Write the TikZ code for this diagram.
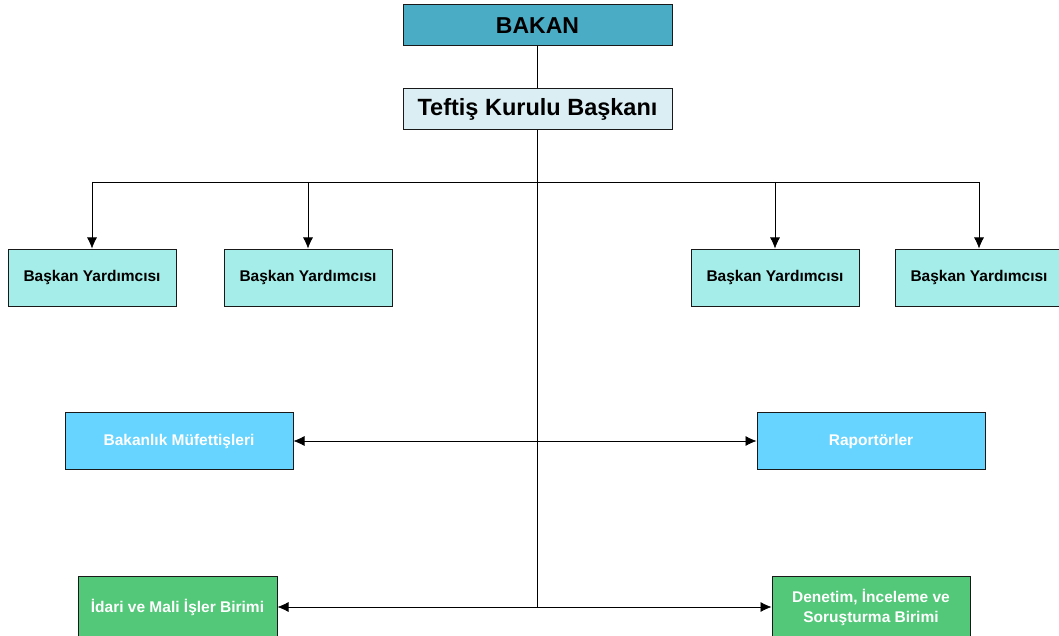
\documentclass[tikz,border=0pt]{standalone}
\usepackage{fontspec}
\setmainfont{Liberation Sans}
\usetikzlibrary{%
	arrows.meta,%
	positioning,%
	calc
}
\definecolor{bakancol}{HTML}{4BACC6}
\definecolor{baskancol}{HTML}{DAEEF3}
\definecolor{yardcol}{HTML}{A5EDE8}
\definecolor{mufcol}{HTML}{66D4FF}
\definecolor{birimcol}{HTML}{52C878}
\tikzstyle{box}=[draw=black!90, line width=1pt, align=center, inner sep=0pt]
\tikzstyle{line}=[draw, line width=0.7pt]
\tikzstyle{tip}=[-{Latex[length=11pt,width=10pt]}]
\tikzstyle{tips}=[{Latex[length=11pt,width=10pt]}-{Latex[length=11pt,width=10pt]}]

\begin{document}
\begin{tikzpicture}[x=1pt, y=-1pt]
		\useasboundingbox (0,0) rectangle (1059,636);
		\node[box, fill=bakancol, minimum width=269pt, minimum height=41pt, font=\fontsize{23}{25}\selectfont\bfseries] (bakan) at (537.5,25.5) {BAKAN};
		\node[box, fill=baskancol, minimum width=269pt, minimum height=41pt, font=\fontsize{23.5}{25}\selectfont\bfseries] (tkb) at (537.5,109.5) {Teftiş Kurulu Başkanı};
		
		% yardimcilar
		\node[box, fill=yardcol, minimum width=168pt, minimum height=57pt, font=\fontsize{15.5}{17}\selectfont\bfseries] (by1) at (92,277.5) {Başkan Yardımcısı};
		\node[box, fill=yardcol, minimum width=168pt, minimum height=57pt, font=\fontsize{15.5}{17}\selectfont\bfseries] (by2) at (308,277.5) {Başkan Yardımcısı};
		\node[box, fill=yardcol, minimum width=168pt, minimum height=57pt, font=\fontsize{15.5}{17}\selectfont\bfseries] (by3) at (775,277.5) {Başkan Yardımcısı};
		\node[box, fill=yardcol, minimum width=168pt, minimum height=57pt, font=\fontsize{15.5}{17}\selectfont\bfseries] (by4) at (979,277.5) {Başkan Yardımcısı};
		
		\node[box, fill=mufcol, text=white, minimum width=228pt, minimum height=57pt, font=\fontsize{15.5}{17}\selectfont\bfseries] (mufettis) at (179,441) {Bakanlık Müfettişleri};
		\node[box, fill=mufcol, text=white, minimum width=228pt, minimum height=57pt, font=\fontsize{15.5}{17}\selectfont\bfseries] (raportor) at (871,441) {Raportörler};
		
		\node[box, fill=birimcol, text=white, minimum width=199pt, minimum height=62pt, font=\fontsize{15.5}{20}\selectfont\bfseries] (idari) at (177.5,607) {İdari ve Mali İşler Birimi};
		\node[box, fill=birimcol, text=white, minimum width=198pt, minimum height=62pt, font=\fontsize{15.5}{20}\selectfont\bfseries] (denetim) at (871,607) {Denetim, İnceleme ve\\Soruşturma Birimi};
		
		\coordinate (bar) at (538,182);
		
		\draw[line] (bakan) -- (tkb);
		\draw[line] (tkb.south) -- (tkb.south |- idari.east);
		\draw[line] (by1.north |- bar) -- (by4.north |- bar);
		\foreach \yard in {by1,by2,by3,by4}
		\draw[line, tip] (\yard.north |- bar) -- (\yard.north);
		\draw[line, tips] (mufettis.east) -- (raportor.west);
		\draw[line, tips] (idari.east) -- (denetim.west);
	\end{tikzpicture}
\end{document}
